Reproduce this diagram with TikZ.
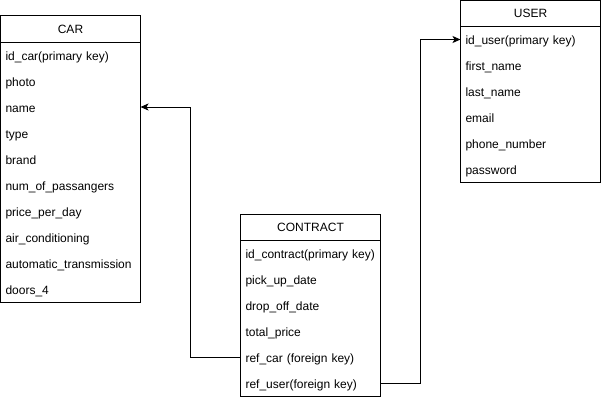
\documentclass[tikz,border=0pt]{standalone}
\usepackage{fontspec}
\setmainfont{Liberation Sans}
\usetikzlibrary{positioning,arrows.meta}
\begin{document}
\begin{tikzpicture}[x=1pt, y=1pt, node distance=0pt, line width=1pt,
    head/.style = {draw, minimum width=140pt, minimum height=26pt, inner sep=0pt, outer sep=0pt, font=\fontsize{12}{14}\selectfont},
    field/.style = {minimum width=140pt, minimum height=26pt, text width=130pt, inner xsep=5pt, inner ysep=0pt, outer sep=0pt,
        text height=11pt, text depth=1pt, align=left, font=\fontsize{12}{14}\selectfont},
    link/.style = {-{Stealth[length=8pt, width=7pt, inset=2pt]}}]
    \useasboundingbox (0,0) rectangle (601,400);
    % CAR table
    \node[head] (car) at (70.5,371) {CAR};
    \node[field] (car1) [below=of car] {id\_car(primary key)};
    \node[field] (car2) [below=of car1] {photo};
    \node[field] (car3) [below=of car2] {name};
    \node[field] (car4) [below=of car3] {type};
    \node[field] (car5) [below=of car4] {brand};
    \node[field] (car6) [below=of car5] {num\_of\_passangers};
    \node[field] (car7) [below=of car6] {price\_per\_day};
    \node[field] (car8) [below=of car7] {air\_conditioning};
    \node[field] (car9) [below=of car8] {automatic\_transmission};
    \node[field] (car10) [below=of car9] {doors\_4};
    \draw (car1.north west) rectangle (car10.south east);
    % USER table
    \node[head] (user) at (530.5,386.5) {USER};
    \node[field] (user1) [below=of user] {id\_user(primary key)};
    \node[field] (user2) [below=of user1] {first\_name};
    \node[field] (user3) [below=of user2] {last\_name};
    \node[field] (user4) [below=of user3] {email};
    \node[field] (user5) [below=of user4] {phone\_number};
    \node[field] (user6) [below=of user5] {password};
    \draw (user1.north west) rectangle (user6.south east);
    % CONTRACT table
    \node[head] (contract) at (310.5,173) {CONTRACT};
    \node[field] (con1) [below=of contract] {id\_contract(primary key)};
    \node[field] (con2) [below=of con1] {pick\_up\_date};
    \node[field] (con3) [below=of con2] {drop\_off\_date};
    \node[field] (con4) [below=of con3] {total\_price};
    \node[field] (con5) [below=of con4] {ref\_car (foreign key)};
    \node[field] (con6) [below=of con5] {ref\_user(foreign key)};
    \draw (con1.north west) rectangle (con6.south east);
    % foreign keys
    \draw[link] (con5.west) -- ++(-50,0) |- (car3.east);
    \draw[link] (con6.east) -- ++(40,0) |- (user1.west);
\end{tikzpicture}
\end{document}
